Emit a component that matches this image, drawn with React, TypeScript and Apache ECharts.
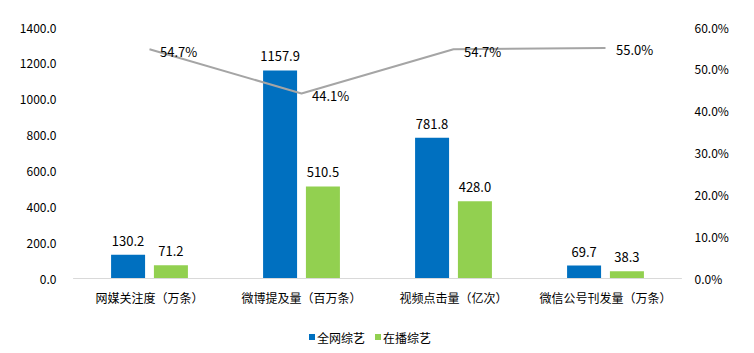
import React, { useEffect, useRef } from "react";
import * as echarts from "echarts";

const categories = ["网媒关注度（万条）", "微博提及量（百万条）", "视频点击量（亿次）", "微信公号刊发量（万条）"];
const allShows = [130.2, 1157.9, 781.8, 69.7];
const airingShows = [71.2, 510.5, 428.0, 38.3];
const ratio = [0.547, 0.441, 0.547, 0.55];
const seriesNames = ["全网综艺", "在播综艺"];

const FONT = "'Noto Sans CJK SC', 'Noto Sans', sans-serif";

export default function App() {
  const ref = useRef<HTMLDivElement>(null);
  useEffect(() => {
    if (!ref.current) return;
    const chart = echarts.init(ref.current, null, { renderer: "svg" });
    chart.setOption({
      animation: false,
      textStyle: { fontFamily: FONT, color: "#000" },
      grid: { left: 73.5, right: 72.5, top: 27, bottom: 75, containLabel: false },
      legend: {
        bottom: 5,
        left: 304,
        itemWidth: 6,
        itemHeight: 6,
        itemGap: 10,
        icon: "rect",
        textStyle: { fontSize: 12, color: "#000", fontFamily: FONT, padding: [0, 0, 0, -3] },
        data: seriesNames,
      },
      xAxis: {
        type: "category",
        data: categories,
        axisLine: { lineStyle: { color: "#D9D9D9", width: 1 } },
        axisTick: { show: false },
        axisLabel: { fontSize: 12, color: "#000", margin: 13, interval: 0, fontFamily: FONT },
      },
      yAxis: [
        {
          type: "value",
          min: 0,
          max: 1400,
          interval: 200,
          splitLine: { show: false },
          axisLine: { show: false },
          axisTick: { show: false },
          axisLabel: { fontSize: 12, color: "#000", margin: 17, fontFamily: FONT, formatter: (v: number) => v.toFixed(1) },
        },
        {
          type: "value",
          min: 0,
          max: 0.6,
          interval: 0.1,
          splitLine: { show: false },
          axisLine: { show: false },
          axisTick: { show: false },
          axisLabel: { fontSize: 12, color: "#000", margin: 13, fontFamily: FONT, formatter: (v: number) => (v * 100).toFixed(1) + "%" },
        },
      ],
      series: [
        {
          name: seriesNames[0],
          type: "bar",
          data: allShows,
          barWidth: 34,
          barGap: "26%",
          itemStyle: { color: "#0070C0" },
          label: { show: true, position: "top", distance: 8, fontSize: 13, color: "#000", fontFamily: FONT, formatter: (p: any) => p.value.toFixed(1) },
        },
        {
          name: seriesNames[1],
          type: "bar",
          data: airingShows,
          barWidth: 34,
          itemStyle: { color: "#92D050" },
          label: { show: true, position: "top", distance: 8, fontSize: 13, color: "#000", fontFamily: FONT, formatter: (p: any) => p.value.toFixed(1) },
        },
        {
          name: "占比",
          type: "line",
          yAxisIndex: 1,
          data: ratio,
          symbol: "circle",
          symbolSize: 1,
          showSymbol: true,
          itemStyle: { color: "rgba(0,0,0,0)" },
          lineStyle: { color: "#A5A5A5", width: 2 },
          label: { show: true, position: "right", distance: 10, offset: [0, 2], fontSize: 13, color: "#000", fontFamily: FONT, formatter: (p: any) => (p.value * 100).toFixed(1) + "%" },
        },
      ],
    });
    return () => chart.dispose();
  }, []);
  return <div ref={ref} style={{ width: 754, height: 353, position: "absolute", left: 0, top: 0 }} />;
}
